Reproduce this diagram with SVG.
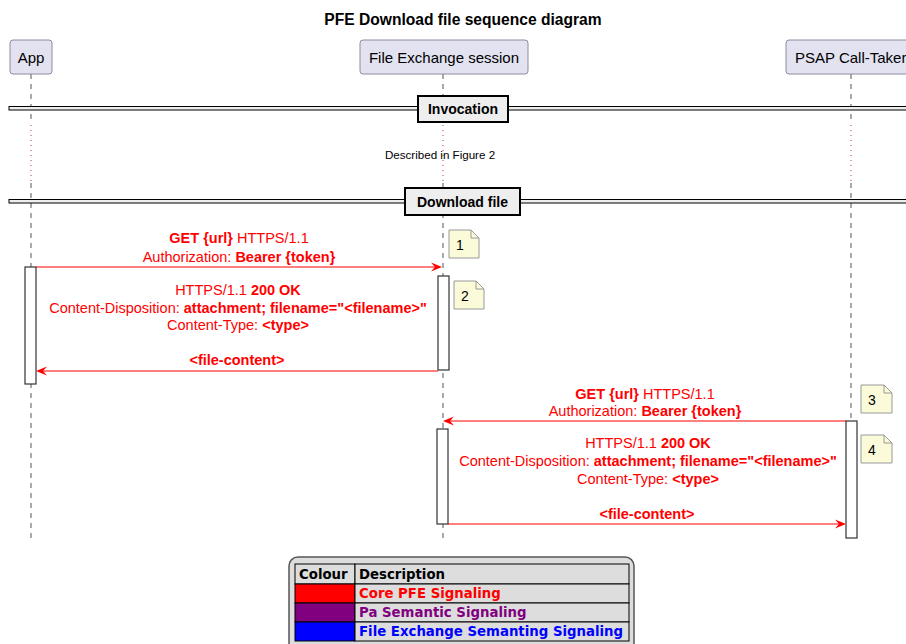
<svg xmlns="http://www.w3.org/2000/svg" width="906" height="644" viewBox="0 0 906 644">
<defs>
<style>
text{font-family:"Liberation Sans",Arial,sans-serif;}
.t{font-size:14px;fill:#000;}
.p{font-size:15px;fill:#000;}
.b{font-weight:bold;}
.m{font-size:14.5px;fill:#FF0000;}
.part{fill:#E2E2F0;stroke:#8C8CA0;stroke-width:1;}
.life{stroke:#555;stroke-width:1;stroke-dasharray:5,5;fill:none;}
.delay{stroke:#C03050;stroke-width:1;stroke-dasharray:1,4;fill:none;}
.act{fill:#FFFFFF;stroke:#333;stroke-width:1.2;}
.note{fill:#FBFBDA;stroke:#999;stroke-width:1;}
.fold{fill:none;stroke:#999;stroke-width:1;}
.msg{stroke:#FF0000;stroke-width:1;fill:none;}
.head{fill:#FF0000;}
.divbox{fill:#EEEEEE;stroke:#000;stroke-width:2;}
.divline{fill:#EEEEEE;stroke:#000;stroke-width:1;}
.lg{font-family:"DejaVu Sans",Verdana,sans-serif;font-size:13.3px;font-weight:bold;}
.cell{fill:#DDDDDD;stroke:#000;stroke-width:1;}
</style>
</defs>
<rect x="0" y="0" width="906" height="644" fill="#FFFFFF"/>
<text class="b" x="463" y="25" text-anchor="middle" font-size="15.6" fill="#000">PFE Download file sequence diagram</text>

<g id="lifelines">
<line class="life" x1="31" y1="74" x2="31" y2="124"/>
<line class="delay" x1="31" y1="125" x2="31" y2="182"/>
<line class="life" x1="31" y1="183" x2="31" y2="540"/>
<line class="life" x1="443" y1="74" x2="443" y2="124"/>
<line class="delay" x1="443" y1="125" x2="443" y2="182"/>
<line class="life" x1="443" y1="183" x2="443" y2="540"/>
<line class="life" x1="851" y1="74" x2="851" y2="124"/>
<line class="delay" x1="851" y1="125" x2="851" y2="182"/>
<line class="life" x1="851" y1="183" x2="851" y2="540"/>
</g>

<g id="app">
<rect class="part" x="10" y="40" width="42" height="34" rx="3"/>
<text class="p" x="31" y="63" text-anchor="middle">App</text>
</g>
<g id="fes">
<rect class="part" x="360" y="40" width="168" height="34" rx="3"/>
<text class="p" x="444" y="63" text-anchor="middle">File Exchange session</text>
</g>
<g id="psap">
<rect class="part" x="786" y="40" width="130" height="34" rx="3"/>
<text class="p" x="795" y="63">PSAP Call-Taker</text>
</g>

<g id="div-invocation">
<rect class="divline" x="9" y="106.5" width="900" height="3.5"/>
<rect class="divbox" x="418" y="96" width="90" height="26"/>
<text class="t b" x="463" y="114" text-anchor="middle" font-size="13.8">Invocation</text>
</g>

<g id="delay-text">
<text x="440" y="159" text-anchor="middle" font-size="11.6" fill="#000">Described in Figure 2</text>
</g>

<g id="div-download">
<rect class="divline" x="9" y="199.5" width="900" height="3.5"/>
<rect class="divbox" x="405" y="188" width="115" height="27"/>
<text class="t b" x="462.5" y="207" text-anchor="middle" font-size="14.3">Download file</text>
</g>

<g id="activations">
<rect class="act" x="25" y="267" width="11" height="117"/>
<rect class="act" x="438" y="276" width="11" height="94"/>
<rect class="act" x="846" y="421" width="11" height="117"/>
<rect class="act" x="437" y="429" width="11" height="95"/>
</g>

<g id="connectors">
<line class="msg" x1="36" y1="267" x2="440" y2="267"/>
<polygon class="head" points="442,267 431,262.5 435,267 431,271.5"/>
<line class="msg" x1="438" y1="371" x2="38" y2="371"/>
<polygon class="head" points="36,371 47,366.5 43,371 47,375.5"/>
<line class="msg" x1="846" y1="421" x2="445" y2="421"/>
<polygon class="head" points="443,421 454,416.5 450,421 454,425.5"/>
<line class="msg" x1="448" y1="524" x2="844" y2="524"/>
<polygon class="head" points="846,524 835,519.5 839,524 835,528.5"/>
</g>

<g id="msg1-label">
<text class="m" x="239" y="243" text-anchor="middle"><tspan class="b">GET {url}</tspan> HTTPS/1.1</text>
<text class="m" x="239" y="262" text-anchor="middle">Authorization: <tspan class="b">Bearer {token}</tspan></text>
</g>
<g id="msg2-label">
<text class="m" x="238" y="295" text-anchor="middle">HTTPS/1.1 <tspan class="b">200 OK</tspan></text>
<text class="m" x="238" y="312.5" text-anchor="middle">Content-Disposition: <tspan class="b">attachment; filename="&lt;filename&gt;"</tspan></text>
<text class="m" x="238" y="330" text-anchor="middle">Content-Type: <tspan class="b">&lt;type&gt;</tspan></text>
<text class="m b" x="237" y="365" text-anchor="middle">&lt;file-content&gt;</text>
</g>
<g id="msg3-label">
<text class="m" x="645" y="398.5" text-anchor="middle"><tspan class="b">GET {url}</tspan> HTTPS/1.1</text>
<text class="m" x="645" y="416" text-anchor="middle">Authorization: <tspan class="b">Bearer {token}</tspan></text>
</g>
<g id="msg4-label">
<text class="m" x="648" y="447.5" text-anchor="middle">HTTPS/1.1 <tspan class="b">200 OK</tspan></text>
<text class="m" x="648" y="465.5" text-anchor="middle">Content-Disposition: <tspan class="b">attachment; filename="&lt;filename&gt;"</tspan></text>
<text class="m" x="648" y="483.5" text-anchor="middle">Content-Type: <tspan class="b">&lt;type&gt;</tspan></text>
<text class="m b" x="647" y="518.5" text-anchor="middle">&lt;file-content&gt;</text>
</g>

<g id="note1">
<path class="note" d="M449,230 H471 L479,238 V258 H449 Z"/>
<path class="fold" d="M471,230 V238 H479"/>
<text class="t" x="456" y="250">1</text>
</g>
<g id="note2">
<path class="note" d="M454,281 H476 L484,289 V309 H454 Z"/>
<path class="fold" d="M476,281 V289 H484"/>
<text class="t" x="461" y="301">2</text>
</g>
<g id="note3">
<path class="note" d="M861,385 H884 L892,393 V413 H861 Z"/>
<path class="fold" d="M884,385 V393 H892"/>
<text class="t" x="868" y="405">3</text>
</g>
<g id="note4">
<path class="note" d="M861,435 H884 L892,443 V463 H861 Z"/>
<path class="fold" d="M884,435 V443 H892"/>
<text class="t" x="868" y="455">4</text>
</g>

<g id="legend">
<rect x="289" y="557" width="345" height="100" rx="9" fill="#DDDDDD" stroke="#555" stroke-width="1.5"/>
<rect class="cell" x="295" y="564" width="60" height="20"/>
<rect class="cell" x="355" y="564" width="274" height="20"/>
<rect x="295" y="584" width="60" height="19" fill="#FF0000" stroke="#000"/>
<rect class="cell" x="355" y="584" width="274" height="19"/>
<rect x="295" y="603" width="60" height="19" fill="#800080" stroke="#000"/>
<rect class="cell" x="355" y="603" width="274" height="19"/>
<rect x="295" y="622" width="60" height="19" fill="#0000FF" stroke="#000"/>
<rect class="cell" x="355" y="622" width="274" height="19"/>
<text class="lg" x="299" y="579" fill="#000">Colour</text>
<text class="lg" x="359" y="579" fill="#000">Description</text>
<text class="lg" x="359" y="598" fill="#FF0000">Core PFE Signaling</text>
<text class="lg" x="359" y="617" fill="#800080">Pa Semantic Signaling</text>
<text class="lg" x="359" y="636" fill="#0000FF">File Exchange Semanting Signaling</text>
</g>
</svg>
